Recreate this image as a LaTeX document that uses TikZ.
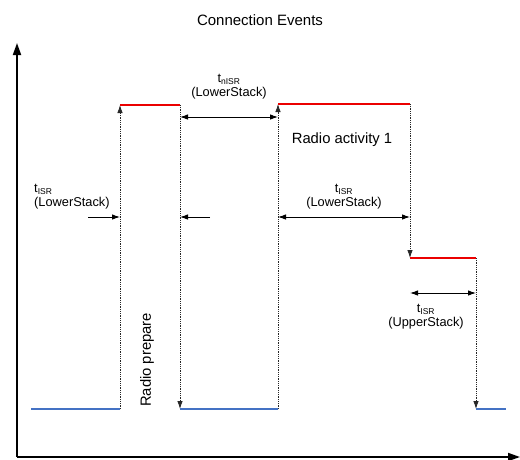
\documentclass[tikz,border=0pt]{standalone}
\usepackage{fontspec}
\setmainfont{Liberation Sans}
\usetikzlibrary{arrows.meta}
\definecolor{idleblue}{RGB}{68,114,196}
\definecolor{activered}{RGB}{235,0,0}
\begin{document}
\begin{tikzpicture}[x=1pt,y=-1pt,
  axis/.style={line width=1.8pt,-{Triangle[length=12pt,width=8pt]}},
  idle/.style={idleblue,line width=2pt},
  busy/.style={activered,line width=2.4pt},
  guide/.style={densely dotted,line width=0.8pt,black!85},
  tip/.style={-{Latex[length=8pt,width=5.5pt]}},
  dimen/.style={line width=0.9pt,{Latex[length=8pt,width=5.5pt]}-{Latex[length=8pt,width=5.5pt]}},
  single/.style={line width=0.9pt,-{Latex[length=8pt,width=5.5pt]}},
  lbl/.style={font=\fontsize{12.8}{14}\selectfont,align=center,inner sep=0pt},
  big/.style={font=\fontsize{14.8}{16}\selectfont,inner sep=0pt}
]
\useasboundingbox (0,0) rectangle (520,459);

% axes
\coordinate (O) at (17,457);
\coordinate (ytop) at (17,43);
\coordinate (xend) at (520,457);
\draw[axis] (O) -- (ytop);
\draw[axis] (O) -- (xend);

\node[font=\fontsize{15}{17}\selectfont,inner sep=0pt] (title) at (260,20) {Connection Events};

% signal levels
\coordinate (b1s) at (31,409);  \coordinate (b1e) at (120,409);
\coordinate (r1s) at (120,105); \coordinate (r1e) at (180,105);
\coordinate (b2s) at (180,409); \coordinate (b2e) at (278,409);
\coordinate (r2s) at (278,104); \coordinate (r2e) at (410,104);
\coordinate (r3s) at (410,258); \coordinate (r3e) at (476,258);
\coordinate (b3s) at (476,409); \coordinate (b3e) at (506,409);

% transitions
\draw[guide,tip] (b1e) -- (r1s);
\draw[guide,tip] (r1e) -- (b2s);
\draw[guide,tip] (b2e) -- (r2s);
\draw[guide,tip] (r2e) -- (r3s);
\draw[guide,tip] (r3e) -- (b3s);

\draw[idle] (b1s) -- (b1e);
\draw[idle] (b2s) -- (b2e);
\draw[idle] (b3s) -- (b3e);
\draw[busy] (r1s) -- (r1e);
\draw[busy] (r2s) -- (r2e);
\draw[busy] (r3s) -- (r3e);

% timing markers
\coordinate (n1) at (180,117); \coordinate (n2) at (278,117);
\draw[dimen] (n1) -- (n2);
\node[lbl] (nisr) at (229,87) {t\textsubscript{\fontsize{8.5}{8.5}\selectfont nISR}\\(LowerStack)};

\coordinate (a0) at (88,217);  \coordinate (a1) at (120,217);
\draw[single] (a0) -- (a1);
\node[lbl,align=left,anchor=west] (isr1) at (34,197) {t\textsubscript{\fontsize{8.5}{8.5}\selectfont ISR}\\(LowerStack)};

\coordinate (c0) at (210,217); \coordinate (c1) at (180,217);
\draw[single] (c0) -- (c1);

\coordinate (d0) at (278,217); \coordinate (d1) at (410,217);
\draw[dimen] (d0) -- (d1);
\node[lbl] (isr2) at (344,197) {t\textsubscript{\fontsize{8.5}{8.5}\selectfont ISR}\\(LowerStack)};

\coordinate (e0) at (410,293); \coordinate (e1) at (476,293);
\draw[dimen] (e0) -- (e1);
\node[lbl] (isr3) at (426,317) {t\textsubscript{\fontsize{8.5}{8.5}\selectfont ISR}\\(UpperStack)};

\node[big] (act) at (342,140) {Radio activity 1};
\node[big,rotate=90] (prep) at (147,360) {Radio prepare};
\end{tikzpicture}
\end{document}
